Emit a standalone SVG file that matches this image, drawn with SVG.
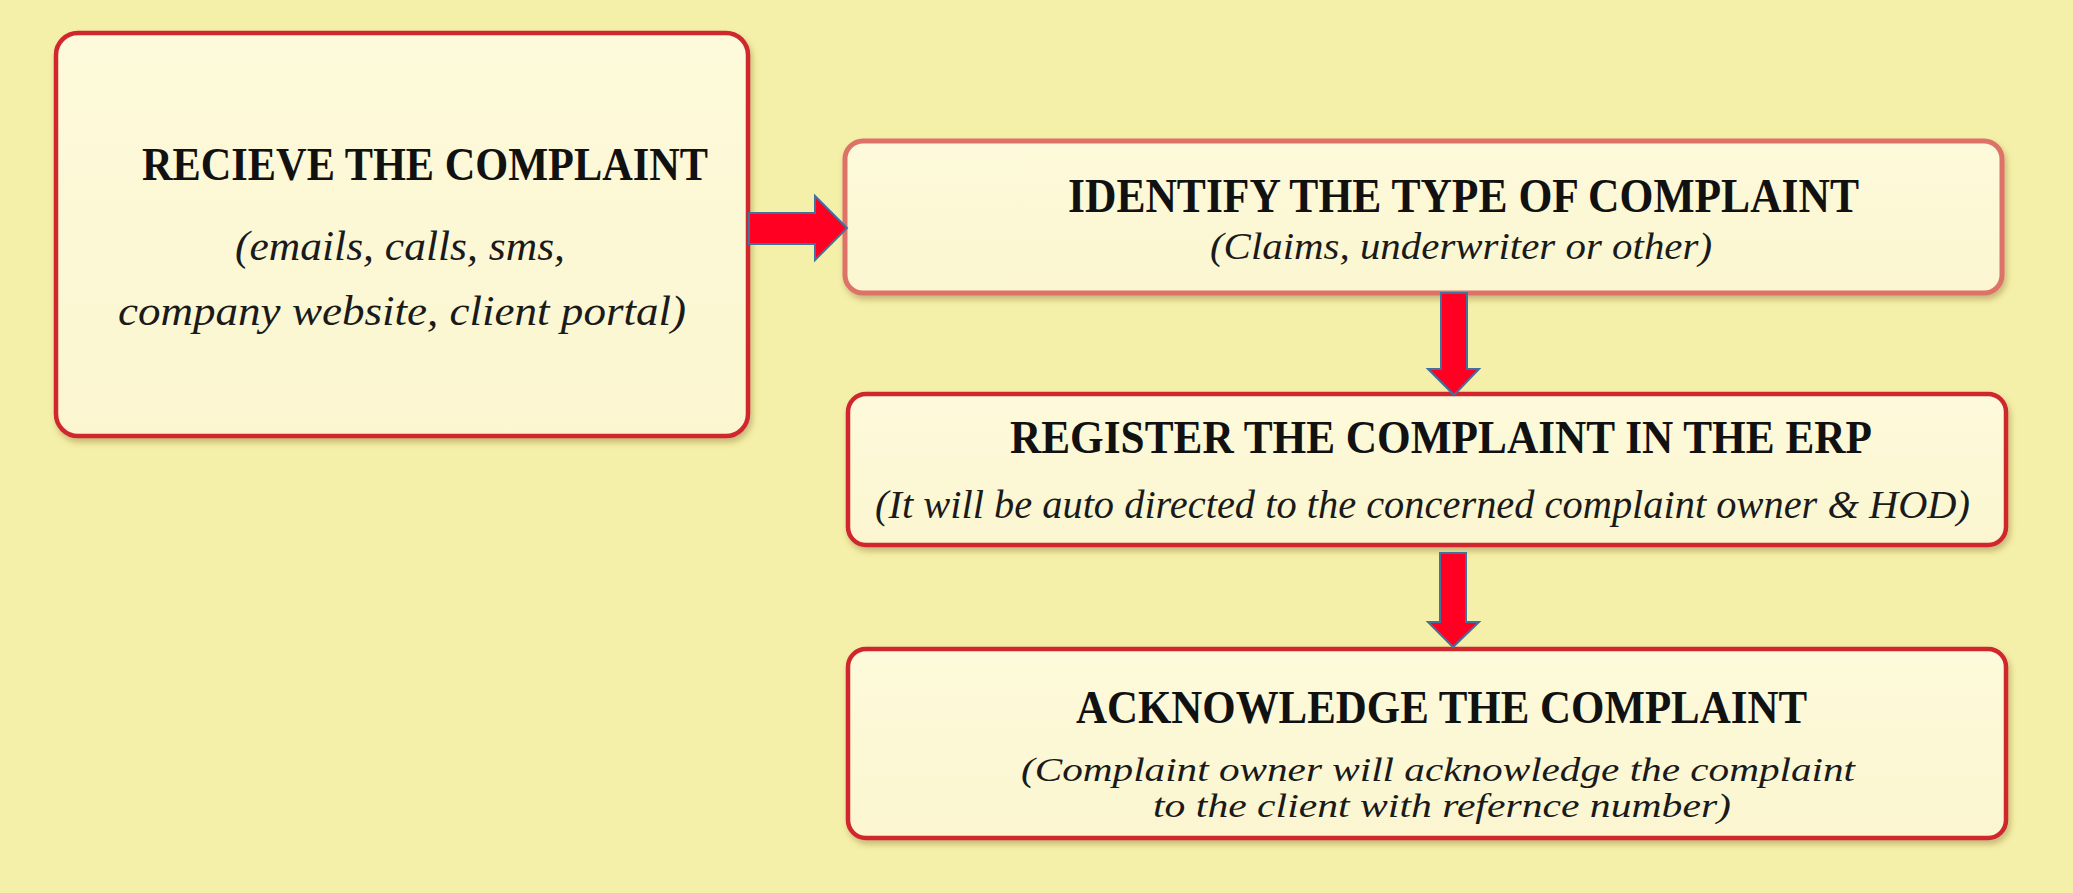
<svg xmlns="http://www.w3.org/2000/svg" width="2073" height="893" viewBox="0 0 2073 893">
<style>
.box{fill:url(#bf);stroke:#d0252f;stroke-width:4.5;filter:url(#sh)}
.box2{stroke:#dd7268;stroke-width:5}
.t{font-family:"Liberation Serif","DejaVu Serif",serif;font-weight:bold;fill:#111;}
.s{font-family:"Liberation Serif","DejaVu Serif",serif;font-style:italic;fill:#1a1a1a;}
.arr{fill:#ff0022;stroke:#41719c;stroke-width:2;stroke-linejoin:miter}
</style>
<defs>
<linearGradient id="bf" x1="0" y1="0" x2="0" y2="1">
<stop offset="0" stop-color="#fdfadb"/>
<stop offset="1" stop-color="#fbf6d0"/>
</linearGradient>
<filter id="sh" x="-5%" y="-10%" width="110%" height="125%">
<feDropShadow dx="2" dy="4" stdDeviation="3" flood-color="#6b4a20" flood-opacity="0.35"/>
</filter>
</defs>
<rect x="0" y="0" width="2073" height="893" fill="#f5f0a9"/>
<g id="node-receive">
<rect class="box" x="56" y="33" width="692" height="403" rx="22"/>
<text class="t" x="142" y="180" font-size="47" textLength="566" lengthAdjust="spacingAndGlyphs">RECIEVE THE COMPLAINT</text>
<text class="s" x="235" y="260" font-size="43" textLength="330" lengthAdjust="spacingAndGlyphs">(emails, calls, sms,</text>
<text class="s" x="118" y="325" font-size="43" textLength="568" lengthAdjust="spacingAndGlyphs">company website, client portal)</text>
</g>
<g id="node-identify">
<rect class="box box2" x="845" y="141" width="1157" height="152" rx="18"/>
<text class="t" x="1068" y="212" font-size="48" textLength="791" lengthAdjust="spacingAndGlyphs">IDENTIFY THE TYPE OF COMPLAINT</text>
<text class="s" x="1210" y="259" font-size="37" textLength="502" lengthAdjust="spacingAndGlyphs">(Claims, underwriter or other)</text>
</g>
<g id="node-register">
<rect class="box" x="848" y="394" width="1158" height="151" rx="18"/>
<text class="t" x="1010" y="453" font-size="46" textLength="862" lengthAdjust="spacingAndGlyphs">REGISTER THE COMPLAINT IN THE ERP</text>
<text class="s" x="875" y="518" font-size="39" textLength="1095" lengthAdjust="spacingAndGlyphs">(It will be auto directed to the concerned complaint owner &amp; HOD)</text>
</g>
<g id="node-acknowledge">
<rect class="box" x="848" y="649" width="1158" height="189" rx="18"/>
<text class="t" x="1076" y="723" font-size="46" textLength="731" lengthAdjust="spacingAndGlyphs">ACKNOWLEDGE THE COMPLAINT</text>
<text class="s" x="1021" y="781" font-size="34" textLength="834" lengthAdjust="spacingAndGlyphs">(Complaint owner will acknowledge the complaint</text>
<text class="s" x="1153" y="817" font-size="34" textLength="578" lengthAdjust="spacingAndGlyphs">to the client with refernce number)</text>
</g>
<g id="connectors">
<polygon class="arr" points="749,213 815,213 815,196 847,228 815,260 815,244 749,244"/>
<polygon class="arr" points="1441,293 1467,293 1467,369 1479,369 1454,395 1428,369 1441,369"/>
<polygon class="arr" points="1440,553 1466,553 1466,622 1479,622 1453,647 1428,622 1440,622"/>
</g>
</svg>
